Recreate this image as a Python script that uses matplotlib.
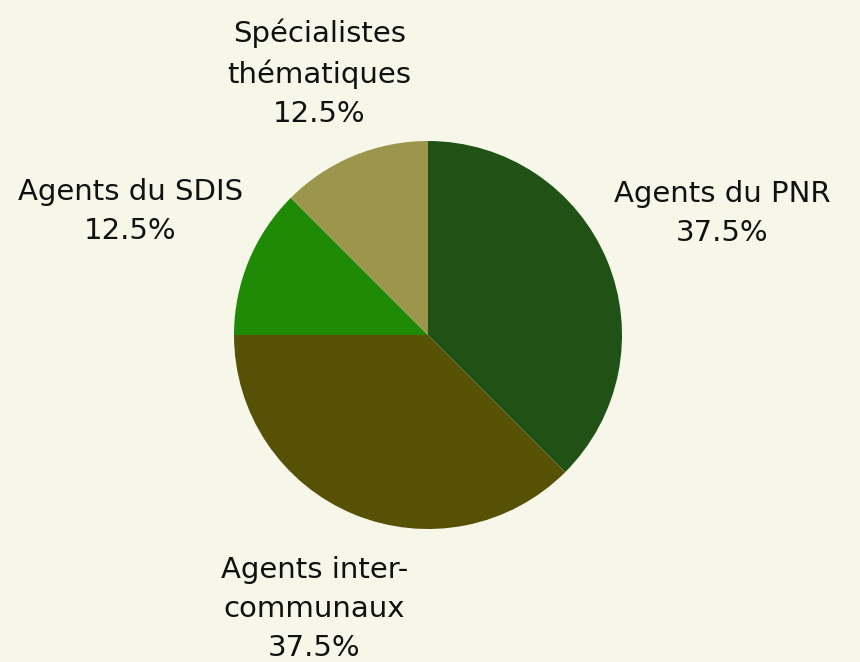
import matplotlib
matplotlib.use("Agg")
import matplotlib.pyplot as plt
import numpy as np

labels = ["Agents du PNR", "Agents inter-\ncommunaux", "Agents du SDIS", "Spécialistes\nthématiques"]
values = [37.5, 37.5, 12.5, 12.5]
colors = ["#1f5214", "#575105", "#1e8a06", "#9c964c"]
bg = "#f6f6e9"

plt.rcParams['font.family'] = ['DejaVu Sans']

fig = plt.figure(figsize=(8.6, 6.62), dpi=100, facecolor=bg)
ax = fig.add_axes([0, 0, 1, 1])
ax.set_facecolor(bg)

radius = 1.0
wedges, _ = ax.pie(values, colors=colors, startangle=90, counterclock=False,
                   radius=radius, center=(0, 0))

# label distance per slice (multi-line labels sit a bit closer)
dist = [1.64, 1.53, 1.66, 1.46]
for w, lab, v, d in zip(wedges, labels, values, dist):
    ang = np.deg2rad((w.theta1 + w.theta2) / 2)
    x, y = d * np.cos(ang), d * np.sin(ang)
    ax.text(x, y, f"{lab}\n{v:.1f}%", ha="center", va="center",
            fontsize=21, color="#111111", linespacing=1.5)

# pie centre at (428, 335) px, radius 194 px
sx = 860 / 194.0
sy = 662 / 194.0
cx = 428 / 194.0
cy = (662 - 335) / 194.0
ax.set_xlim(-cx, sx - cx)
ax.set_ylim(-cy, sy - cy)
ax.set_aspect("equal")
ax.axis("off")

fig.savefig("out.png", dpi=100, facecolor=bg)
